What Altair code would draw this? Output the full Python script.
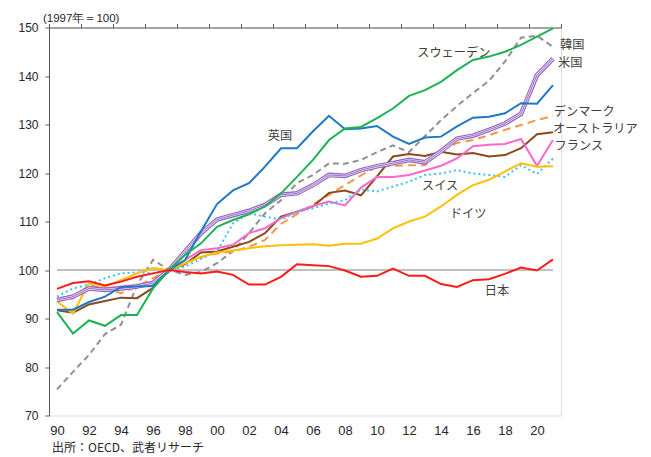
import altair as alt
import pandas as pd

years = list(range(1990, 2022))

japan = [96.1, 97.3, 97.7, 96.8, 97.6, 98.6, 99.3, 100, 99.6, 99.3, 99.7, 99.0, 97.0, 97.0, 98.6, 101.2,
         101.0, 100.8, 99.9, 98.6, 98.8, 100.3, 98.8, 98.8, 97.1, 96.5, 97.9, 98.1, 99.2, 100.5, 99.9, 102.2]
sweden = [91.3, 86.9, 89.6, 88.5, 90.7, 90.7, 96.2, 100, 103.1, 105.5, 108.9, 110.3, 111.5, 113.1, 115.8, 119.2,
          122.7, 126.8, 129.2, 129.5, 131.3, 133.3, 135.9, 137.1, 138.8, 141.2, 143.3, 144.0, 145.0, 146.4, 148.1, 149.8]
korea = [75.4, 79.0, 82.5, 86.8, 88.7, 96.9, 102.1, 100, 99.0, 99.6, 101.4, 103.9, 107.6, 111.7, 114.4, 117.9,
         119.6, 122.0, 121.9, 122.7, 124.3, 125.7, 124.3, 127.6, 130.9, 133.8, 136.5, 139.0, 143.0, 147.9, 148.3, 146.0]
uk = [91.8, 91.8, 93.4, 94.5, 96.5, 96.6, 96.7, 100, 102.0, 108.0, 113.6, 116.4, 117.9, 121.3, 125.1, 125.1,
      128.6, 131.8, 129.0, 129.2, 129.7, 127.5, 126.0, 127.3, 127.5, 129.6, 131.4, 131.6, 132.3, 134.4, 134.3, 138.1]
us = [93.8, 94.5, 96.2, 95.9, 96.2, 96.6, 97.3, 100, 103.8, 107.6, 110.4, 111.3, 112.2, 113.4, 115.5, 115.8,
      117.5, 119.6, 119.4, 120.6, 121.4, 122.0, 122.7, 122.2, 124.5, 127.1, 127.7, 128.9, 130.2, 132.2, 140.2, 143.6]
denmark = [93.5, 94.2, 96.9, 96.2, 95.2, 96.6, 98.3, 100, 101.4, 102.7, 103.4, 103.8, 104.8, 106.2, 109.5, 111.5,
           113.5, 115.5, 117.5, 119.5, 121.3, 121.5, 121.6, 121.6, 124.6, 126.2, 126.8, 127.8, 128.9, 129.9, 130.9, 131.8]
australia = [91.7, 91.2, 92.9, 93.6, 94.3, 94.2, 96.3, 100, 101.2, 103.6, 103.8, 104.8, 105.8, 107.6, 111.0, 112.0,
             113.1, 115.9, 116.4, 115.4, 119.3, 123.4, 123.9, 123.5, 124.4, 123.8, 124.1, 123.4, 123.7, 125.1, 128.0, 128.4]
france = [94.0, 94.8, 96.2, 96.2, 96.6, 96.9, 97.6, 100, 102.1, 104.1, 104.5, 105.2, 107.6, 108.6, 110.7, 112.0,
          113.2, 114.1, 113.3, 117.0, 119.2, 119.2, 119.6, 120.5, 121.5, 123.0, 125.5, 125.8, 126.0, 127.0, 121.5, 126.8]
switzerland = [94.5, 96.2, 97.0, 98.3, 99.3, 99.5, 99.3, 100, 100.7, 102.3, 103.8, 109.6, 111.7, 111.0, 110.4, 112.0,
               112.7, 113.7, 114.4, 116.6, 116.2, 117.2, 118.2, 119.6, 119.9, 120.6, 119.9, 119.6, 119.2, 121.6, 119.8, 123.0]
germany = [93.5, 91.0, 97.4, 96.6, 97.9, 99.3, 100.4, 100, 101.4, 102.7, 103.6, 104.0, 104.5, 104.9, 105.1, 105.2,
           105.3, 105.0, 105.4, 105.4, 106.5, 108.6, 110.0, 111.0, 113.1, 115.5, 117.5, 118.6, 120.3, 122.0, 121.3, 121.4]

label_left_names = ["韓国", "米国", "デンマーク", "オーストラリア", "フランス"]
label_left_x = [2021.44, 2021.31, 2021.05, 2021.0, 2021.1]
label_left_y = [146.3, 142.7, 132.5, 129.0, 125.5]
label_center_names = ["スウェーデン", "英国", "スイス", "ドイツ", "日本"]
label_center_x = [2014.8, 2003.94, 2013.94, 2015.69, 2017.5]
label_center_y = [144.8, 127.7, 117.3, 111.5, 95.6]

series = [
    ("韓国", korea, "#8f8f8f", 2, [6, 4]),
    ("デンマーク", denmark, "#f79646", 2, [8, 5]),
    ("オーストラリア", australia, "#8b4a1c", 2, None),
    ("フランス", france, "#ff66cc", 2, None),
    ("スイス", switzerland, "#3ec1f0", 2, [2, 3]),
    ("ドイツ", germany, "#ffc000", 2, None),
    ("米国", us, "#9164c0", 4.6, None),
    ("英国", uk, "#1f78c4", 2, None),
    ("スウェーデン", sweden, "#1db354", 2, None),
    ("日本", japan, "#ff1a1a", 2, None),
]

rows = []
for name, vals, *_ in series:
    for yr, v in zip(years, vals):
        rows.append({"country": name, "year": yr, "value": v})
df = pd.DataFrame(rows)

xscale = alt.Scale(domain=[1989.5, 2021.5], nice=False, zero=False)
yscale = alt.Scale(domain=[70, 150], nice=False, zero=False)
axis_col = "#595959"
tick_axis = alt.Axis(values=[1989.5 + 2 * k for k in range(17)], labels=False, ticks=True, tickSize=4,
                     domain=True, domainColor=axis_col, tickColor=axis_col, grid=False, title=None)
label_axis = alt.Axis(values=list(range(1990, 2021, 2)), ticks=False, domain=False, grid=False,
                      labelExpr="substring(toString(datum.value), 2, 4)", labelFontSize=13, labelPadding=9,
                      labelColor="#262626", labelFont="Liberation Sans", labelFlush=False, labelOverlap=False,
                      title=None, orient="bottom")
y_axis = alt.Axis(values=list(range(70, 151, 10)), grid=False, domainColor=axis_col, tickColor=axis_col,
                  tickSize=4, labelFontSize=12, labelPadding=7, labelColor="#262626", labelFont="Liberation Sans",
                  labelFlush=False, labelOverlap=False, title=None)

X = alt.X("year:Q", scale=xscale, axis=tick_axis)
Y = alt.Y("value:Q", scale=yscale, axis=y_axis)

base = alt.Chart(df)
layers = []
for name, vals, color, width, dash in series:
    f = base.transform_filter(alt.datum.country == name)
    if name == "米国":
        layers.append(f.mark_line(color=color, strokeWidth=width).encode(x=X, y=Y))
        layers.append(f.mark_line(color="#eadff5", strokeWidth=2.4).encode(x=X, y=Y))
        layers.append(f.mark_line(color=color, strokeWidth=0.9).encode(x=X, y=Y))
    else:
        kw = dict(color=color, strokeWidth=width)
        if dash:
            kw["strokeDash"] = dash
        layers.append(f.mark_line(**kw).encode(x=X, y=Y))

lab_left = pd.DataFrame({"t": label_left_names, "year": label_left_x, "value": label_left_y})
lab_center = pd.DataFrame({"t": label_center_names, "year": label_center_x, "value": label_center_y})
txt = dict(font="Noto Sans CJK JP", fontSize=12.2, color="#404040", baseline="middle")
layers.append(alt.Chart(lab_left).mark_text(align="left", **txt).encode(x=X, y=Y, text="t:N"))
layers.append(alt.Chart(lab_center).mark_text(align="center", **txt).encode(x=X, y=Y, text="t:N"))

lines = alt.layer(*layers)

ref = alt.Chart(pd.DataFrame({"a": [0]})).mark_rule(color="#808080", strokeWidth=1).encode(
    x=alt.X(datum=1990, type="quantitative", scale=xscale, axis=label_axis),
    x2=alt.datum(2021),
    y=alt.Y(datum=100, type="quantitative", scale=yscale, axis=y_axis),
)

notes = alt.Chart(pd.DataFrame({"t": ["出所：OECD、武者リサーチ"]})).mark_text(
    align="left", baseline="middle", font="Noto Sans CJK JP", fontSize=12, color="#262626"
).encode(x=alt.value(3), y=alt.value(420), text="t:N")

unit = alt.Chart(pd.DataFrame({"t": ["(1997年＝100)"]})).mark_text(
    align="left", baseline="middle", font="Liberation Sans", fontSize=11.5, color="#262626"
).encode(x=alt.value(-6), y=alt.value(-8.5), text="t:N")

chart = alt.layer(ref, lines, notes, unit).resolve_axis(x="independent").properties(
    width=512, height=388,
    autosize=alt.AutoSizeParams(type="none"),
    padding={"left": 41, "top": 19.5, "right": 82, "bottom": 40},
).configure_view(stroke=None).configure(background="white")

chart.save("out.html", embed_options={"renderer": "svg", "actions": False})
